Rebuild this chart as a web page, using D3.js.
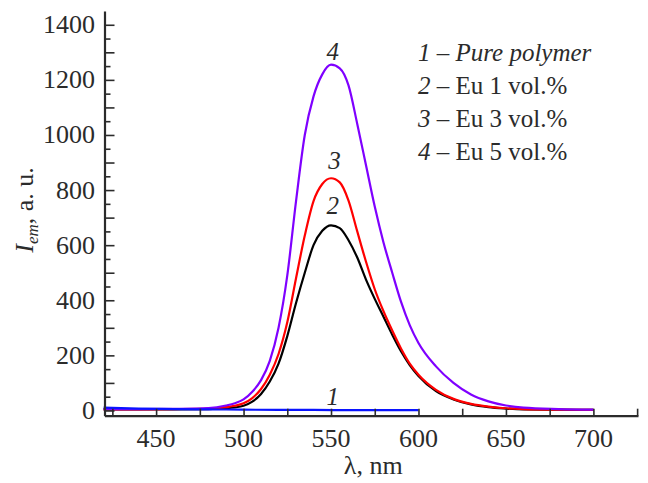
<!DOCTYPE html>
<html>
<head>
<meta charset="utf-8">
<script src="https://cdn.jsdelivr.net/npm/d3@7"></script>
</head>
<body style="margin:0">
<div id="c"></div>
<script>
// wavelengths (nm) for the Eu spectra
const lambda = [420, 440, 460, 480, 490, 495, 500, 505, 510, 515, 520, 525, 530, 535, 540, 545, 550,
  555, 560, 565, 570, 575, 580, 585, 590, 595, 600, 610, 620, 630, 640, 650, 660, 680, 700];

// 2 - Eu 1 vol.%
const eu1 = [4, 4, 4, 5, 8, 11, 17, 32, 60, 105, 170, 270, 390, 500, 600, 652, 672,
  662, 618, 555, 475, 405, 340, 275, 215, 165, 125, 70, 40, 22, 12, 7, 4, 3, 2];
// 3 - Eu 3 vol.%
const eu3 = [4, 4, 5, 7, 12, 17, 26, 45, 78, 130, 205, 320, 480, 635, 760, 822, 843,
  828, 762, 650, 540, 440, 360, 290, 225, 170, 130, 75, 42, 24, 14, 8, 5, 3, 2];
// 4 - Eu 5 vol.%
const eu5 = [5, 5, 6, 9, 18, 26, 40, 68, 110, 180, 300, 490, 760, 1000, 1140, 1220, 1255,
  1242, 1180, 1040, 890, 740, 610, 500, 395, 310, 245, 160, 100, 58, 33, 18, 10, 5, 3];

// 1 - pure polymer (only measured up to 600 nm)
const lambdaPure = [420, 440, 460, 480, 500, 520, 540, 560, 580, 600];
const pure = [10, 7, 5, 4, 3, 2, 2, 1, 1, 1];

const xTicks = [425, 450, 475, 500, 525, 550, 575, 600, 625, 650, 675, 700, 725];
const xLabels = [450, 500, 550, 600, 650, 700];
const yTicks = d3.range(0, 1401, 50);
const yLabels = [0, 200, 400, 600, 800, 1000, 1200, 1400];

const legendNums = ["1", "2", "3", "4"];
const legendTexts = ["Pure polymer", "Eu 1 vol.%", "Eu 3 vol.%", "Eu 5 vol.%"];

// curve numbers next to the curves (data units)
const curveLabels = [
  { t: "1", x: 551, y: 20 },
  { t: "2", x: 551, y: 713 },
  { t: "3", x: 552, y: 875 },
  { t: "4", x: 551, y: 1272 }
];

const INK = "#2b2b2b";

const svg = d3.select("#c").append("svg")
  .attr("width", 648)
  .attr("height", 483);

const x = d3.scaleLinear().domain([420.5, 725.5]).range([104.5, 638]);
const y = d3.scaleLinear().domain([-19, 1450]).range([415.7, 11]);

// all the text sits in one group, drawn on top
const labels = svg.append("g");

function txt(px, py, size) {
  return labels.append("text")
    .attr("x", px)
    .attr("y", py)
    .attr("font-family", "Liberation Serif")
    .attr("font-size", size)
    .attr("fill", INK);
}

// curves
const series = [
  { xs: lambda, ys: eu1, color: "#000000" },
  { xs: lambda, ys: eu3, color: "#ff0000" },
  { xs: lambda, ys: eu5, color: "#7f00ff" },
  { xs: lambdaPure, ys: pure, color: "#0a14ff" }
];

const line = d3.line()
  .x(d => x(d[0]))
  .y(d => y(d[1]))
  .curve(d3.curveMonotoneX);

const plot = svg.insert("g", ":first-child");

series.forEach(s => {
  plot.append("path")
    .datum(s.xs.map((v, i) => [v, s.ys[i]]))
    .attr("d", line)
    .attr("fill", "none")
    .attr("stroke", s.color)
    .attr("stroke-width", 2.2);
});

// axes: lines and ticks from d3.axis, labels drawn as own text
const gx = plot.append("g")
  .attr("transform", `translate(0,${y.range()[0]})`)
  .call(d3.axisBottom(x).tickValues(xTicks).tickSize(-7).tickSizeOuter(0).tickFormat(""));

const gy = plot.append("g")
  .attr("transform", `translate(${x.range()[0]},0)`)
  .call(d3.axisLeft(y).tickValues(yTicks).tickSizeOuter(0).tickFormat(""));

gy.selectAll(".tick line")
  .attr("x2", d => d % 100 === 0 ? 10 : 6);

[gx, gy].forEach(g => {
  g.attr("font-family", null).attr("font-size", null);
  g.select(".domain").attr("stroke", INK).attr("stroke-width", 2.2);
  g.selectAll(".tick line").attr("stroke", INK).attr("stroke-width", 1.6);
  g.selectAll(".tick text").remove();
});

xLabels.forEach(v => {
  txt(x(v), 447, 26).attr("text-anchor", "middle").text(v);
});
yLabels.forEach(v => {
  txt(95, y(v) + 8.5, 26).attr("text-anchor", "end").text(v);
});

// axis titles
txt((x.range()[0] + x.range()[1]) / 2 + 2, 474, 26)
  .attr("text-anchor", "middle")
  .text("λ, nm");

const yt = txt(0, 0, 26)
  .attr("transform", "translate(33,210) rotate(-90)")
  .attr("text-anchor", "middle");
yt.append("tspan").attr("font-style", "italic").text("I");
yt.append("tspan").attr("font-style", "italic").attr("font-size", 17)
  .attr("dy", 5).text("em");
yt.append("tspan").attr("dy", -5).text(", a. u.");

// curve numbers
curveLabels.forEach(d => {
  txt(x(d.x), y(d.y), 25)
    .attr("text-anchor", "middle")
    .attr("font-style", "italic")
    .text(d.t);
});

// legend
legendNums.forEach((n, i) => {
  const t = txt(418, 61 + i * 33, 25);
  t.append("tspan").attr("font-style", "italic").text(n);
  t.append("tspan").text(" – ");
  t.append("tspan").attr("font-style", i === 0 ? "italic" : "normal").text(legendTexts[i]);
});
</script>
</body>
</html>
